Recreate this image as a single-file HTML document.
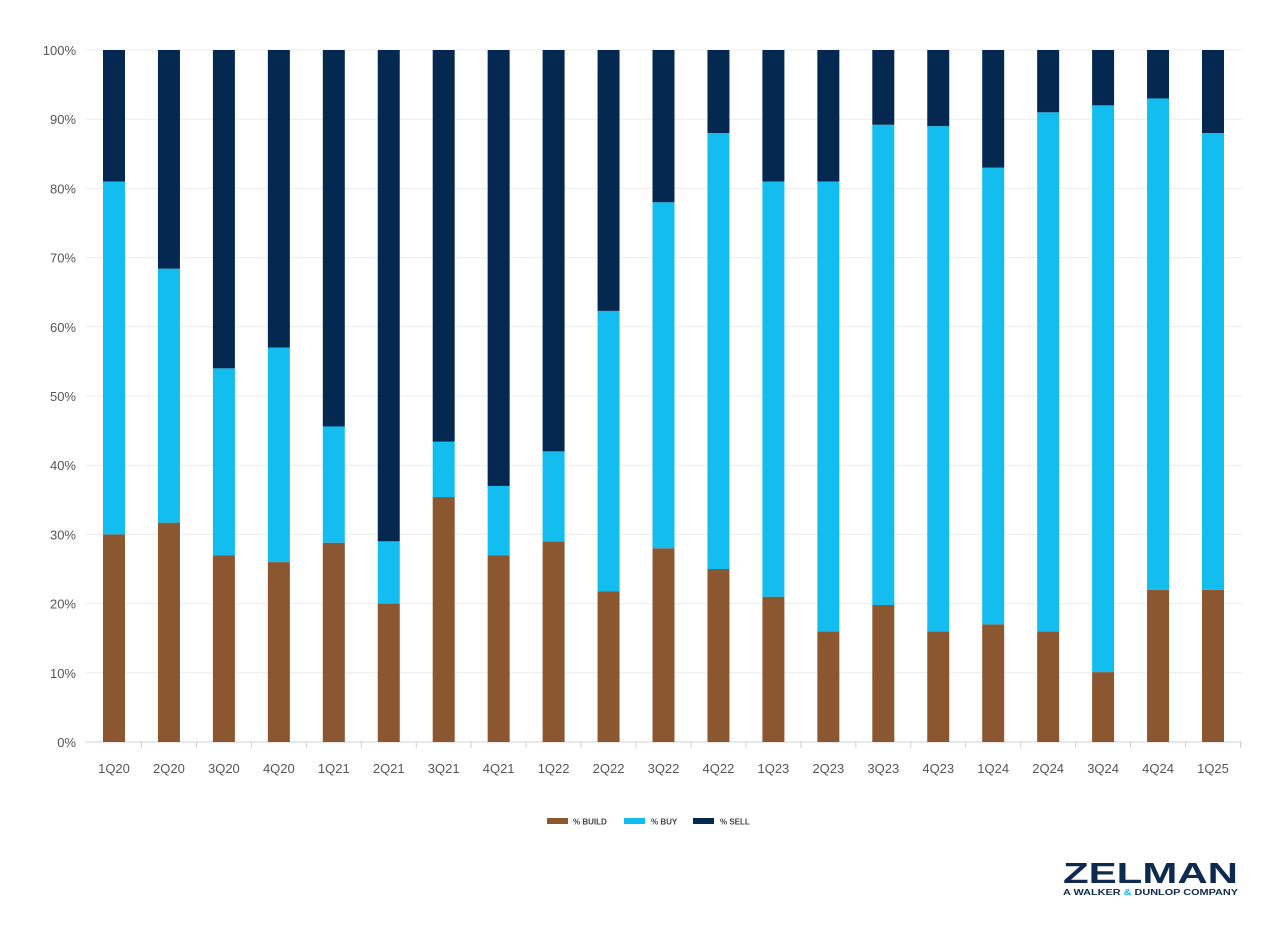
<!DOCTYPE html>
<html><head><meta charset="utf-8"><style>
html,body{margin:0;padding:0;background:#fff;width:1280px;height:937px;overflow:hidden}
svg{display:block;font-family:"Liberation Sans",sans-serif}
</style></head><body>
<svg id="chart" width="1280" height="937">
<g id="grid"></g>
<g id="bars"></g>
<g id="yaxis"></g>
<g id="xaxis"></g>
<g font-size="8" font-weight="bold" fill="#444">
<g><rect x="547" y="818" width="21" height="6" fill="#8B5731"/><text x="573" y="824.5">% BUILD</text></g>
<g><rect x="624" y="818" width="21" height="6" fill="#13BDF0"/><text x="651" y="824.5">% BUY</text></g>
<g><rect x="693" y="818" width="21" height="6" fill="#04284F"/><text x="720" y="824.5">% SELL</text></g>
</g>
<g fill="#0E2A4F">
<text x="1063" y="883" font-size="29" font-weight="bold" textLength="175" lengthAdjust="spacingAndGlyphs">ZELMAN</text>
<text x="1063" y="895" font-size="8" font-weight="bold" textLength="175" lengthAdjust="spacingAndGlyphs">A WALKER <tspan fill="#13BDF0">&amp;</tspan> DUNLOP COMPANY</text>
</g>
</svg>
<script>
const categories=["1Q20","2Q20","3Q20","4Q20","1Q21","2Q21","3Q21","4Q21","1Q22","2Q22","3Q22","4Q22","1Q23","2Q23","3Q23","4Q23","1Q24","2Q24","3Q24","4Q24","1Q25"];
const buildPct=[30,31.7,27,26,28.8,20,35.4,27,29,21.8,28,25,21,16,19.8,16,17,16,10.1,22,22];
const buyPct=[51,36.7,27,31,16.8,9,8,10,13,40.5,50,63,60,65,69.4,73,66,75,81.9,71,66];
const sellPct=[19,31.6,46,43,54.4,71,56.6,63,58,37.7,22,12,19,19,10.8,11,17,9,8,7,12];
const yTicks=[0,10,20,30,40,50,60,70,80,90,100];
const NS="http://www.w3.org/2000/svg";
const y=v=>742-v*6.92;
const x=i=>114+i*54.95;
const bw=22;
function mk(t,a,p){const e=document.createElementNS(NS,t);for(const k in a)e.setAttribute(k,a[k]);p.appendChild(e);return e;}
const grid=document.getElementById('grid'),bars=document.getElementById('bars'),ya=document.getElementById('yaxis'),xa=document.getElementById('xaxis');
yTicks.forEach(v=>{
 const l=mk('line',{x1:86,x2:1242,y1:y(v),y2:y(v),stroke:v===0?'#d0d0d0':'#ececec','stroke-width':1},grid);
 
 
 const t=mk('text',{x:76,y:y(v)+5,'text-anchor':'end','font-size':13,fill:'#555'},ya);
 t.textContent=v+'%';
 
 
});
categories.forEach((c,i)=>{
 const series=[[buildPct[i],'#8B5731','build'],[buyPct[i],'#13BDF0','buy'],[sellPct[i],'#04284F','sell']];
 let base=0;
 series.forEach(s=>{
  const r=mk('rect',{x:x(i)-bw/2,y:y(base+s[0]),width:bw,height:s[0]*6.92,fill:s[1]},bars);
  
  
  base+=s[0];
 });
 const t=mk('text',{x:x(i),y:773,'text-anchor':'middle','font-size':13,fill:'#555'},xa);
 t.textContent=c;
 
 
 if(i<categories.length){const tk=mk('line',{x1:x(i)+27.5,x2:x(i)+27.5,y1:742,y2:748,stroke:'#d0d0d0'},xa);
 
 }
});
</script>
</body></html>
